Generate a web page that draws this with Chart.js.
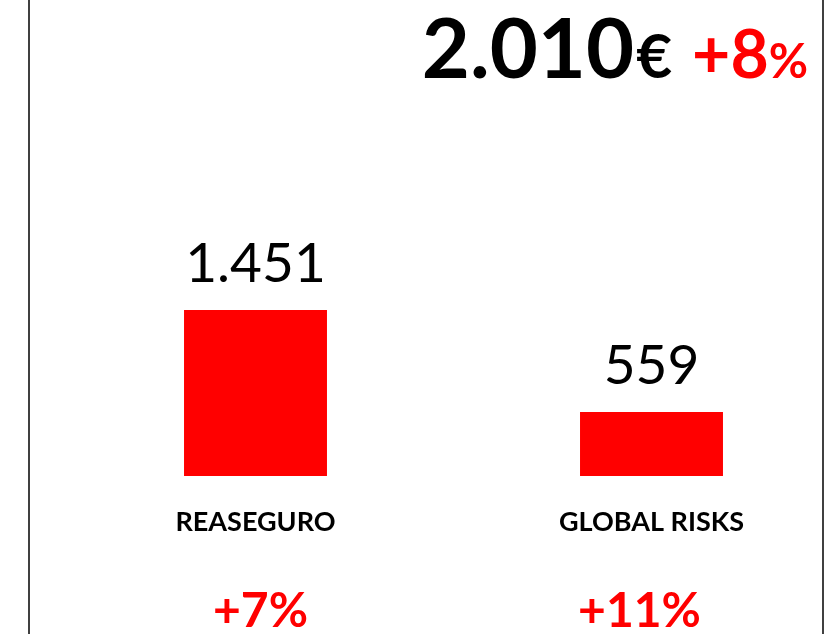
<!DOCTYPE html>
<html>
<head>
<meta charset="utf-8">
<script src="https://cdn.jsdelivr.net/npm/chart.js@4.4.1/dist/chart.umd.min.js"></script>
<style>
  html, body { margin: 0; padding: 0; background: #fff; overflow: hidden; }
  #wrap { position: relative; width: 900px; height: 634px; }
  #frame { position: absolute; left: 28px; top: 0; width: 792px; height: 634px;
           border-left: 2px solid #404040; border-right: 2px solid #404040; pointer-events: none; }
</style>
</head>
<body>
<div id="wrap">
  <canvas id="c" width="900" height="634"></canvas>
  <div id="frame"></div>
</div>
<script>
// ---- data ----
const categories = ['REASEGURO', 'GLOBAL RISKS'];
const values = [1451, 559];
const growth = ['+7%', '+11%'];
const totalValue = 2010;
const totalGrowth = '+8';

const FONT = 'Lato, "Open Sans", sans-serif';

function fmt(n) {
  return String(n).replace(/\B(?=(\d{3})+(?!\d))/g, '.');
}

const annotate = {
  id: 'annotate',
  afterDatasetsDraw(chart) {
    const ctx = chart.ctx;
    const meta = chart.getDatasetMeta(0);
    const xs = chart.scales.x;
    ctx.save();
    // value labels above bars
    ctx.fillStyle = '#000';
    ctx.font = '400 55px ' + FONT;
    ctx.textAlign = 'center';
    ctx.textBaseline = 'alphabetic';
    meta.data.forEach((bar, i) => {
      ctx.fillText(fmt(values[i]), bar.x, bar.y - 28);
    });
    // growth labels at bottom
    ctx.fillStyle = '#ff0000';
    ctx.font = '700 48px ' + FONT;
    growth.forEach((g, i) => {
      const shift = i === 0 ? 5 : -12;
      ctx.fillText(g, xs.getPixelForValue(i) + shift, chart.height - 7);
    });
    // title: total and growth, right aligned
    const parts = [
      { t: fmt(totalValue), f: '700 83px ' + FONT, c: '#000' },
      { t: '€', f: '700 62px ' + FONT, c: '#000', gap: 2 },
      { t: totalGrowth, f: '700 66px ' + FONT, c: '#ff0000', gap: 20 },
      { t: '%', f: '700 48px ' + FONT, c: '#ff0000', gap: 0 }
    ];
    let total = 0;
    parts.forEach(p => { ctx.font = p.f; p.w = ctx.measureText(p.t).width; total += p.w + (p.gap || 0); });
    let x = 808 - total;
    ctx.textAlign = 'left';
    parts.forEach(p => {
      x += (p.gap || 0);
      ctx.font = p.f; ctx.fillStyle = p.c;
      ctx.fillText(p.t, x, 78);
      x += p.w;
    });
    ctx.restore();
  }
};

new Chart(document.getElementById('c'), {
  type: 'bar',
  data: {
    labels: categories,
    datasets: [{
      data: values,
      backgroundColor: '#ff0000',
      borderWidth: 0,
      categoryPercentage: 1,
      barPercentage: 0.361
    }]
  },
  options: {
    responsive: false,
    animation: false,
    layout: { padding: { left: 57.5, right: 50.5, top: 190, bottom: 0 } },
    plugins: { legend: { display: false }, tooltip: { enabled: false }, title: { display: false } },
    scales: {
      y: { display: false, min: 0, max: 2500 },
      x: {
        grid: { display: false, drawTicks: false },
        border: { display: false },
        ticks: { color: '#000', font: { family: FONT, size: 27, weight: '700' }, padding: 30, maxRotation: 0 },
        afterFit(s) { s.height = 158; }
      }
    }
  },
  plugins: [annotate]
});
</script>
</body>
</html>
